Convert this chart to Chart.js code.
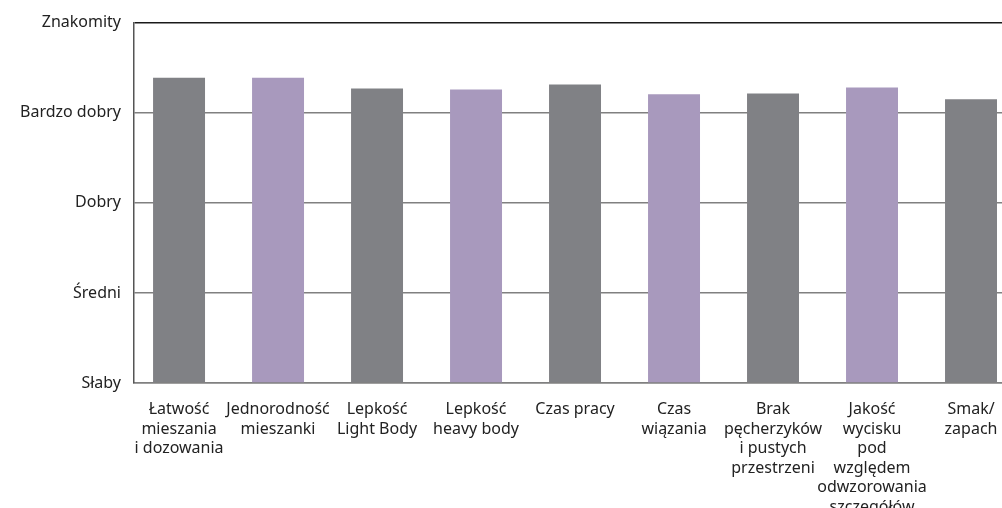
<!DOCTYPE html>
<html>
<head>
<meta charset="utf-8">
<script src="https://cdn.jsdelivr.net/npm/chart.js@4.4.1/dist/chart.umd.min.js"></script>
<style>
  html, body { margin: 0; padding: 0; background: #fff; overflow: hidden; }
  #wrap { width: 1002px; height: 508px; position: relative; }
</style>
</head>
<body>
<div id="wrap"><canvas id="chart"></canvas></div>
<script>
// Rating scale shown on the y axis (0 = Słaby ... 4 = Znakomity)
const ratingLabels = ['Słaby', 'Średni', 'Dobry', 'Bardzo dobry', 'Znakomity'];

// Categories, already split in lines as in the picture
const categories = [
    ['Łatwość', 'mieszania', 'i dozowania'],
    ['Jednorodność', 'mieszanki'],
    ['Lepkość', 'Light Body'],
    ['Lepkość', 'heavy body'],
    ['Czas pracy'],
    ['Czas', 'wiązania'],
    ['Brak', 'pęcherzyków', 'i pustych', 'przestrzeni'],
    ['Jakość', 'wycisku', 'pod', 'względem', 'odwzorowania', 'szczegółów'],
    ['Smak/', 'zapach']
];

// Average rating per category
const scores = [3.39, 3.39, 3.27, 3.26, 3.315, 3.205, 3.215, 3.28, 3.15];

const GREY = '#808185';
const PURPLE = '#a899bd';
const font = { family: 'Noto Sans', size: 16, lineHeight: 1.22 };

const points = scores.map((v, i) => ({ x: i, y: v }));

new Chart(document.getElementById('chart'), {
    type: 'bar',
    data: {
        datasets: [{
            data: points,
            backgroundColor: scores.map((_, i) => i % 2 === 0 ? GREY : PURPLE),
            borderWidth: 0,
            barPercentage: 0.525,
            categoryPercentage: 1
        }]
    },
    options: {
        responsive: true,
        maintainAspectRatio: false,
        animation: false,
        layout: { padding: { top: 21, right: 0, left: 0, bottom: 0 } },
        plugins: {
            legend: { display: false },
            tooltip: { enabled: false }
        },
        scales: {
            x: {
                type: 'linear',
                offset: false,
                min: -0.455,
                max: 8.313,
                grid: { display: false, drawTicks: false, offset: false },
                border: { color: '#808080', width: 1.5 },
                afterBuildTicks: (scale) => {
                    scale.ticks = categories.map((_, i) => ({ value: i }));
                },
                afterFit: (scale) => {
                    scale.height = 125;
                    // the chart is cut at the right edge, no room kept for labels
                    scale.paddingLeft = 0;
                    scale.paddingRight = 0;
                },
                ticks: {
                    autoSkip: false,
                    maxRotation: 0,
                    padding: 17,
                    color: '#222',
                    font: font,
                    callback: (v) => categories[v]
                }
            },
            y: {
                min: 0,
                max: 4,
                afterFit: (scale) => { scale.width = 134; },
                grid: {
                    drawTicks: false,
                    color: (ctx) => ctx.tick && ctx.tick.value === 4 ? '#1a1a1a' : '#808080',
                    lineWidth: 1.5
                },
                border: { color: '#555', width: 1.5 },
                ticks: {
                    stepSize: 1,
                    padding: 13,
                    color: '#222',
                    font: font,
                    callback: (v) => ratingLabels[v]
                }
            }
        }
    }
});
</script>
</body>
</html>
